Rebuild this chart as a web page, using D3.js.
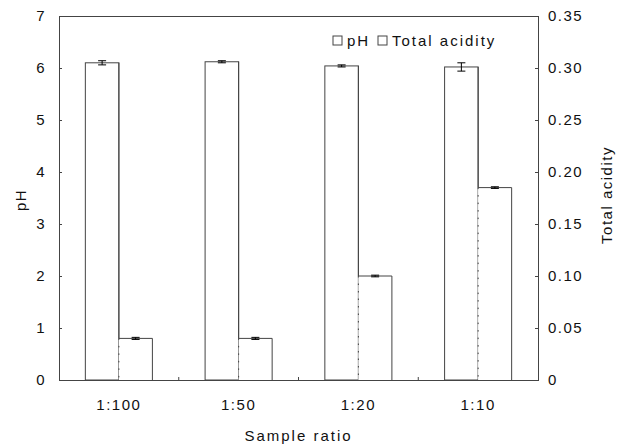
<!DOCTYPE html>
<html><head><meta charset="utf-8">
<script src="https://cdn.jsdelivr.net/npm/d3@7"></script>
<style>body{margin:0;background:#fff;}svg{display:block;font-family:"Liberation Sans",Arial,sans-serif;}</style>
</head><body><svg id="c" width="628" height="445"></svg>
<script>
const categories = ["1:100", "1:50", "1:20", "1:10"];
const phValues = [6.10, 6.12, 6.04, 6.02];
const phErrors = [0.04, 0.02, 0.02, 0.08];
const acidityValues = [0.040, 0.040, 0.100, 0.185];
const acidityErrors = [0.001, 0.001, 0.0008, 0.0008];
const phTicks = [0, 1, 2, 3, 4, 5, 6, 7];
const acidityTicks = [0, 0.05, 0.10, 0.15, 0.20, 0.25, 0.30, 0.35];
const acidityTickLabels = ["0", "0.05", "0.10", "0.15", "0.20", "0.25", "0.30", "0.35"];

const svg = d3.select("#c");
const m = {l: 59, r: 538, t: 16, b: 380};
const stroke = "#444";
const FS = 15, LS = 1.5;

const x = d3.scaleBand().domain(categories).range([m.l, m.r]).paddingInner(0.44).paddingOuter(0.22);
const yL = d3.scaleLinear().domain([0, 7]).range([m.b, m.t]);
const yR = d3.scaleLinear().domain([0, 0.35]).range([m.b, m.t]);
const bw = x.bandwidth() / 2;

// frame
svg.append("rect").attr("x", m.l).attr("y", m.t).attr("width", m.r - m.l).attr("height", m.b - m.t)
  .attr("fill", "none").attr("stroke", stroke).attr("stroke-width", 1).attr("shape-rendering", "crispEdges");

const gL = svg.append("g").attr("transform", `translate(${m.l},0)`)
  .call(d3.axisLeft(yL).tickValues(phTicks).tickSize(-3).tickPadding(13).tickFormat(d3.format("d")));
const gR = svg.append("g").attr("transform", `translate(${m.r},0)`)
  .call(d3.axisRight(yR).tickValues(acidityTicks).tickSize(-3).tickPadding(10).tickFormat((d, i) => acidityTickLabels[i]));
const gB = svg.append("g").attr("transform", `translate(0,${m.b})`)
  .call(d3.axisBottom(x).tickSize(0).tickPadding(19));
[gL, gR, gB].forEach(g => {
  g.select(".domain").attr("stroke", stroke);
  g.selectAll("line").attr("stroke", stroke);
  g.selectAll("text").attr("font-size", FS).attr("letter-spacing", LS).attr("fill", "#111")
    .attr("font-family", "'Liberation Sans',Arial,sans-serif");
});
const bounds = categories.slice(1).map(c => x(c) - x.step() * x.paddingInner() / 2);
svg.append("g").selectAll("line").data(bounds).join("line")
  .attr("x1", d => d).attr("x2", d => d).attr("y1", m.b).attr("y2", m.b - 3).attr("stroke", stroke);

// pH bars
svg.append("g").selectAll("rect").data(categories).join("rect")
  .attr("x", d => x(d)).attr("y", (d, i) => yL(phValues[i]))
  .attr("width", bw).attr("height", (d, i) => m.b - yL(phValues[i]))
  .attr("fill", "#fff").attr("stroke", stroke).attr("stroke-width", 1);

// acidity bars
const ag = svg.append("g");
ag.selectAll("rect").data(categories).join("rect")
  .attr("x", d => x(d) + bw).attr("y", (d, i) => yR(acidityValues[i]))
  .attr("width", bw).attr("height", (d, i) => m.b - yR(acidityValues[i]))
  .attr("fill", "#fff").attr("stroke", "none");
ag.selectAll("path.solid").data(categories).join("path").attr("class", "solid")
  .attr("d", (d, i) => {
    const x0 = x(d) + bw, x1 = x0 + bw, y0 = yR(acidityValues[i]);
    return `M${x0},${y0}H${x1}V${m.b}`;
  }).attr("fill", "none").attr("stroke", stroke);
ag.selectAll("line.dot").data(categories).join("line").attr("class", "dot")
  .attr("x1", d => x(d) + bw).attr("x2", d => x(d) + bw)
  .attr("y1", (d, i) => yR(acidityValues[i])).attr("y2", m.b)
  .attr("stroke", stroke).attr("stroke-dasharray", "1.5,6");
svg.append("g").selectAll("line").data(categories).join("line")
  .attr("x1", d => x(d) + bw).attr("x2", d => x(d) + bw)
  .attr("y1", (d, i) => yL(phValues[i])).attr("y2", (d, i) => Math.min(m.b, yR(acidityValues[i])))
  .attr("stroke", stroke);

// error bars
function errBars(vals, errs, scale, off) {
  const g = svg.append("g").attr("stroke", "#000");
  categories.forEach((c, i) => {
    const cx = x(c) + off + bw / 2;
    g.append("line").attr("x1", cx).attr("x2", cx).attr("y1", scale(vals[i] + errs[i])).attr("y2", scale(vals[i] - errs[i]));
    g.append("line").attr("x1", cx - 4).attr("x2", cx + 4).attr("y1", scale(vals[i] + errs[i])).attr("y2", scale(vals[i] + errs[i]));
    g.append("line").attr("x1", cx - 4).attr("x2", cx + 4).attr("y1", scale(vals[i] - errs[i])).attr("y2", scale(vals[i] - errs[i]));
  });
}
errBars(phValues, phErrors, yL, 0);
errBars(acidityValues, acidityErrors, yR, bw);

// legend
const leg = svg.append("g").attr("font-size", FS).attr("letter-spacing", LS + 0.5).attr("fill", "#111");
const legendItems = [{label: "pH", x: 333}, {label: "Total acidity", x: 378}];
legendItems.forEach(it => {
  leg.append("rect").attr("x", it.x).attr("y", 36).attr("width", 9).attr("height", 9)
    .attr("fill", "#fff").attr("stroke", stroke);
  leg.append("text").attr("x", it.x + 14).attr("y", 46).text(it.label);
});

// axis titles
svg.append("text").attr("transform", `translate(26,${(m.t + m.b) / 2 + 2}) rotate(-90)`)
  .attr("text-anchor", "middle").attr("font-size", FS).attr("letter-spacing", LS).attr("fill", "#111").text("pH");
svg.append("text").attr("transform", `translate(612,${(m.t + m.b) / 2 - 3}) rotate(-90)`)
  .attr("text-anchor", "middle").attr("font-size", FS).attr("letter-spacing", LS).attr("fill", "#111").text("Total acidity");
svg.append("text").attr("x", (m.l + m.r) / 2).attr("y", 441)
  .attr("text-anchor", "middle").attr("font-size", FS).attr("letter-spacing", LS + 0.5).attr("fill", "#111").text("Sample ratio");
</script></body></html>
